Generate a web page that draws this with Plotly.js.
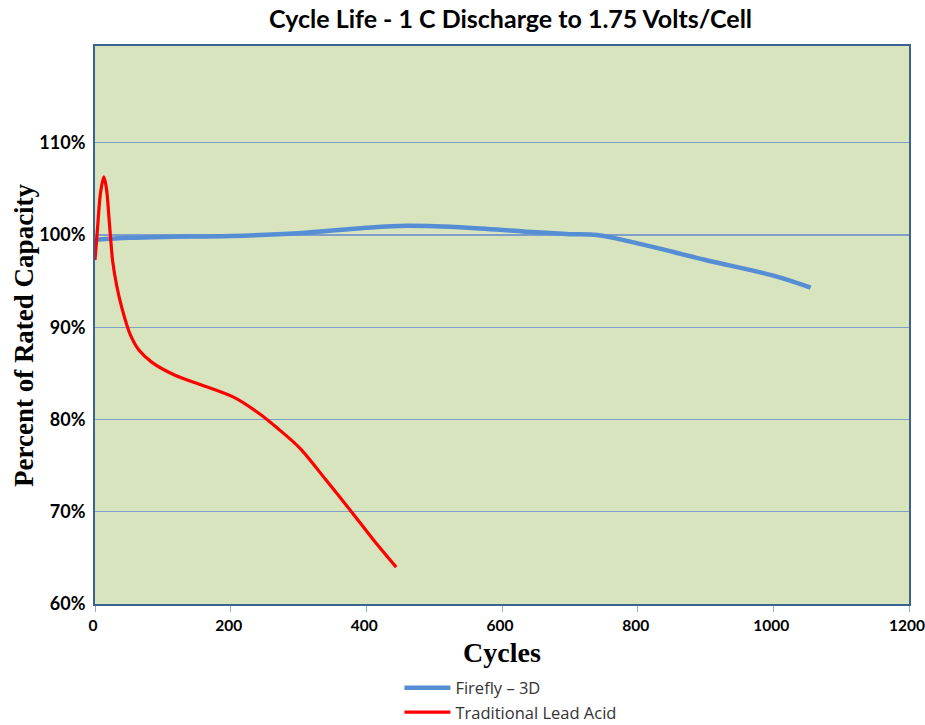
<!DOCTYPE html>
<html>
<head>
<meta charset="utf-8">
<script src="https://cdn.plot.ly/plotly-3.0.1.min.js"></script>
<style>html,body{margin:0;padding:0;background:#fff;}#chart{width:925px;height:725px;}</style>
</head>
<body>
<div id="chart"></div>
<script>
const fireflyCycles = [0, 50, 100, 200, 300, 400, 460, 550, 650, 700, 740, 800, 900, 1000, 1055];
const fireflyValues = [99.5, 99.7, 99.8, 99.9, 100.2, 100.8, 101.0, 100.8, 100.3, 100.1, 100.0, 99.1, 97.3, 95.6, 94.3];
const leadCycles = [0, 4, 8, 13, 17, 21, 26, 32, 40, 52, 65, 84, 118, 155, 205, 243, 270, 302, 340, 376, 410, 444];
const leadValues = [97.3, 101, 104.5, 106.3, 105, 101.5, 97.2, 94.5, 92, 89.2, 87.5, 86.2, 84.8, 83.8, 82.4, 80.6, 79.0, 76.9, 73.5, 70.2, 67.0, 64.0];
const seriesNames = ["Firefly \u2013 3D", "Traditional Lead Acid"];
const xTicks = [0, 200, 400, 600, 800, 1000, 1200];
const yTicks = [60, 70, 80, 90, 100, 110];
const yTickLabels = ["60%", "70%", "80%", "90%", "100%", "110%"];
const yTitle = "Percent of Rated Capacity";

const traces = [
  {x: fireflyCycles, y: fireflyValues, name: seriesNames[0], mode: "lines",
   line: {color: "#558ed5", width: 4.5, shape: "spline", smoothing: 1}},
  {x: leadCycles, y: leadValues, name: seriesNames[1], mode: "lines",
   line: {color: "#ff0000", width: 3.2, shape: "spline", smoothing: 0.8}}
];

const layout = {
  width: 925, height: 725,
  margin: {l: 95, r: 16, t: 46, b: 121, autoexpand: false},
  paper_bgcolor: "#ffffff",
  plot_bgcolor: "#d7e4bd",
  title: {text: "<b>Cycle Life - 1 C Discharge to 1.75 Volts/Cell</b>",
          font: {family: "Lato, 'Open Sans', sans-serif", size: 25, color: "#000"},
          x: 0.552, xanchor: "center", y: 0.973, yanchor: "middle"},
  xaxis: {
    range: [0, 1200], tickvals: xTicks, ticktext: xTicks.map(String),
    showgrid: false, zeroline: false, ticklabeloverflow: "allow", automargin: false,
    showline: true, mirror: true, linecolor: "#3b6390", linewidth: 2,
    ticks: "outside", ticklen: 6, tickcolor: "#8aa9cf", tickwidth: 1,
    ticklabelshift: -2,
    tickfont: {family: "Lato, 'Open Sans', sans-serif", size: 15.5, color: "#000", weight: "bold"},
    title: {text: "<b>Cycles</b>", font: {family: "'Liberation Serif', 'Times New Roman', serif", size: 28, color: "#000"}, standoff: 10}
  },
  yaxis: {
    range: [60, 120.5], tickvals: yTicks, ticktext: yTickLabels, automargin: false,
    showgrid: true, gridcolor: "#7f9fc9", gridwidth: 1.2, zeroline: false,
    showline: true, mirror: true, linecolor: "#3b6390", linewidth: 2,
    ticks: "", ticklabelstandoff: 4,
    tickfont: {family: "Lato, 'Open Sans', sans-serif", size: 18, color: "#000", weight: "bold"}
  },
  annotations: [
    {text: "<b>" + yTitle + "</b>", textangle: -90, showarrow: false,
     xref: "paper", yref: "paper", x: -0.0872, y: 0.482, xanchor: "center", yanchor: "middle",
     font: {family: "'Liberation Serif', 'Times New Roman', serif", size: 27, color: "#000"}}
  ],
  legend: {x: 0.374, xanchor: "left", y: -0.119, yanchor: "top",
           orientation: "v",
           font: {family: "'Open Sans', Lato, sans-serif", size: 16.5, color: "#333"},
           bgcolor: "rgba(0,0,0,0)", tracegroupgap: 0, itemwidth: 46},
  showlegend: true
};

Plotly.newPlot("chart", traces, layout, {staticPlot: true});
</script>
</body>
</html>
